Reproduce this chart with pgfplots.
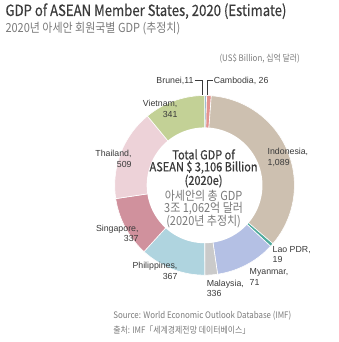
\documentclass[border=0pt]{standalone}
\usepackage{fontspec}
\usepackage{pgfplots}
\usepackage{pgfplotstable}
\pgfplotsset{compat=1.18}
\setmainfont{Liberation Sans}
\newfontfamily\kr{Noto Sans CJK KR}
\newfontfamily\krc{Noto Sans CJK KR}[FakeStretch=0.88]
\newfontfamily\krt{Noto Sans CJK KR}[FakeStretch=0.85,FakeBold=0.35]
\newfontfamily\krb{Noto Sans CJK KR}[FakeStretch=0.88,FakeBold=0.6]
\definecolor{cBru}{HTML}{9DBBD0}
\definecolor{cCam}{HTML}{E3938F}
\definecolor{cIdn}{HTML}{CDC0B0}
\definecolor{cLao}{HTML}{4FAA9C}
\definecolor{cMys}{HTML}{B4C0E4}
\definecolor{cMmr}{HTML}{CACACA}
\definecolor{cPhl}{HTML}{AFD4DF}
\definecolor{cSgp}{HTML}{D0919D}
\definecolor{cTha}{HTML}{EDD2D8}
\definecolor{cVnm}{HTML}{C3D196}
\definecolor{txt}{HTML}{3A3A3A}
\definecolor{grayt}{HTML}{7A7A7A}
\pgfplotstableread{
country value col
Brunei 11 cBru
Cambodia 26 cCam
Indonesia 1089 cIdn
Lao 19 cLao
Malaysia 336 cMys
Myanmar 71 cMmr
Philippines 367 cPhl
Singapore 337 cSgp
Thailand 509 cTha
Vietnam 341 cVnm
}\gdp
\begin{document}
\begin{tikzpicture}
\begin{axis}[
  scale only axis, width=339pt, height=342pt,
  xmin=0, xmax=339, ymin=0, ymax=342,
  hide axis, clip=false,
]
\addplot[draw=none] coordinates {(0,0) (339,342)};
\pgfplotstablegetrowsof{\gdp}
\pgfmathtruncatemacro\nrows{\pgfplotsretval-1}
\gdef\cum{0}
\pgfplotsforeachungrouped \i in {0,...,\nrows}{%
  \pgfplotstablegetelem{\i}{value}\of\gdp \pgfmathsetmacro\v{\pgfplotsretval}%
  \pgfplotstablegetelem{\i}{col}\of\gdp \edef\c{\pgfplotsretval}%
  \pgfmathsetmacro\aend{90-\cum/3106*360}%
  \pgfmathsetmacro\newcum{\cum+\v}%
  \pgfmathsetmacro\astart{90-\newcum/3106*360}%
  \xdef\cum{\newcum}%
  \edef\tmp{\noexpand\addplot[fill=\c, draw=white, line width=0.6pt, domain=\astart:\aend, samples=60] ({205+90*cos(x)},{157+90*sin(x)}) -- (axis cs:205,157) -- cycle;}%
  \tmp
}
\addplot[fill=white, draw=none, domain=0:360, samples=120] ({205+58*cos(x)},{157+58*sin(x)}) -- cycle;
% leader lines
\addplot[txt, line width=0.5pt] coordinates {(195,262) (203,262) (203,247)};
\addplot[txt, line width=0.5pt] coordinates {(207.5,247) (207.5,262) (213,262)};
% titles
\node[anchor=west, text=txt, font=\krt\fontsize{15.5}{16}\selectfont] at (axis cs:2,331.5) {GDP of ASEAN Member States, 2020 (Estimate)};
\node[anchor=west, text=grayt, font=\krc\fontsize{12.5}{13}\selectfont] at (axis cs:2,314) {2020년 아세안 회원국별 GDP (추정치)};
\node[anchor=east, text=grayt, font=\krc\fontsize{9}{9}\selectfont] at (axis cs:304,284) {(US\$ Billion, 십억 달러)};
% labels
\begin{scope}[every node/.style={text=txt, font=\fontsize{8.8}{10.5}\selectfont, inner sep=0pt}]
\node[anchor=east] at (axis cs:194,262) {Brunei,11};
\node[anchor=west] at (axis cs:214,262) {Cambodia, 26};
\node[anchor=east, align=right] at (axis cs:178,233.5) {Vietnam,\\341};
\node[anchor=east, align=right] at (axis cs:132,183.5) {Thailand,\\509};
\node[anchor=east, align=right] at (axis cs:139,109) {Singapore,\\337};
\node[anchor=east, align=right] at (axis cs:178,71.5) {Philippines,\\367};
\node[anchor=west, align=left] at (axis cs:207,54) {Malaysia,\\336};
\node[anchor=west, align=left] at (axis cs:250,65) {Myanmar,\\71};
\node[anchor=west, align=left] at (axis cs:273,87.5) {Lao PDR,\\19};
\node[anchor=west, align=left] at (axis cs:268,185) {Indonesia,\\1,089};
\end{scope}
% center text
\node[align=center, text=txt, inner sep=0pt, font=\krb\fontsize{12.5}{12}\selectfont] at (axis cs:204,174) {Total GDP of\\ASEAN \$ 3,106 Billion\\(2020e)};
\node[align=center, text=grayt, inner sep=0pt, font=\krc\fontsize{12.5}{11.5}\selectfont] at (axis cs:204,133) {아세안의 총 GDP\\3조 1,062억 달러\\(2020년 추정치)};
% source
\node[anchor=west, text=grayt, font=\krc\fontsize{9}{9}\selectfont] at (axis cs:110,26) {Source: World Economic Outlook Database (IMF)};
\node[anchor=west, text=grayt, font=\krc\fontsize{9}{9}\selectfont] at (axis cs:110,12) {출처: IMF「세계경제전망 데이터베이스」};
\end{axis}
\end{tikzpicture}
\end{document}
